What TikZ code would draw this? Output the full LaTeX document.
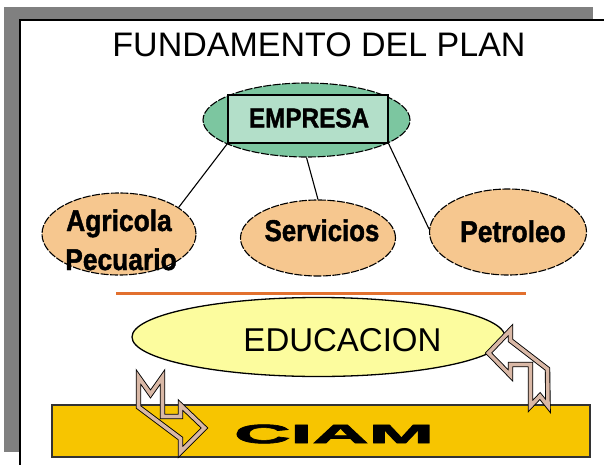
\documentclass[tikz,border=0pt]{standalone}
\usepackage{fontspec}
\setmainfont{Liberation Sans}
\newfontfamily\bfont{Liberation Sans Bold}[FakeBold=1.6]
\newfontfamily\cfont{Liberation Sans Bold}[FakeBold=2.2]
\usetikzlibrary{shapes.geometric}
\definecolor{shadowgray}{HTML}{808080}
\definecolor{empgreen}{HTML}{7CC6A0}
\definecolor{emplight}{HTML}{B3DFC9}
\definecolor{peach}{HTML}{F6C78F}
\definecolor{eduyellow}{HTML}{FCFC9E}
\definecolor{ciamyellow}{HTML}{F7C500}
\definecolor{lineorange}{HTML}{E2702E}
\definecolor{arrowtan}{HTML}{D9B8A6}
\begin{document}
\begin{tikzpicture}[x=1pt,y=-1pt,
  oval/.style={ellipse, draw=black, line width=1.1pt, dash pattern=on 8pt off 1.5pt, fill=peach, inner sep=0pt},
  word/.style={font=\bfont\fontsize{30}{34}\selectfont, inner sep=0pt, anchor=base},
  link/.style={draw=black, line width=1.1pt},
  hollow/.style={draw=black, line width=0.9pt, double=arrowtan, double distance=3.6pt, line join=miter}
]
\useasboundingbox (0,0) rectangle (604,465);
% shadow and panel
\fill[shadowgray] (4,7) rectangle (593,452);
\draw[fill=white, line width=1.8pt] (20,20) rectangle (640,500);
% title
\node[font=\fontsize{34}{40}\selectfont, inner sep=0pt] (title) at (319,45) {FUNDAMENTO DEL PLAN};
% EMPRESA
\node[ellipse, draw=black, line width=1.1pt, dash pattern=on 8pt off 1.5pt, fill=empgreen,
      minimum width=207pt, minimum height=74pt, inner sep=0pt] (emp) at (306.5,120) {};
\node[draw=black, line width=1.2pt, fill=emplight, minimum width=160pt, minimum height=48pt, inner sep=0pt] (emprect) at (308,119) {};
\node[font=\bfont\fontsize{27}{30}\selectfont, inner sep=0pt] (emptxt) at (309,118) {\scalebox{0.9}[1]{EMPRESA}};
% sub ellipses
\node[oval, minimum width=154pt, minimum height=82pt] (agri) at (119,234) {};
\node[oval, minimum width=155pt, minimum height=76pt] (serv) at (318,238) {};
\node[oval, minimum width=157pt, minimum height=86pt] (petro) at (508,232) {};
\node[word] (agri1) at (119,231) {\scalebox{0.88}[1]{Agricola}};
\node[word] (agri2) at (121,270) {\scalebox{0.88}[1]{Pecuario}};
\node[word] (servtxt) at (322,241) {\scalebox{0.86}[1]{Servicios}};
\node[word] (petrotxt) at (513,242) {\scalebox{0.88}[1]{Petroleo}};
% connectors
\draw[link] (emprect.south west) -- (agri.24);
\draw[link] (emp.south) -- (serv.north);
\draw[link] (emprect.south east) -- (petro.178);
% separator
\draw[lineorange, line width=3pt] (116,293) -- (526,293);
% EDUCACION
\node[ellipse, draw=black, line width=1.3pt, fill=eduyellow, minimum width=373pt, minimum height=79pt, inner sep=0pt] (edu) at (318.5,337) {};
\node[font=\fontsize{33}{38}\selectfont, inner sep=0pt] (edutxt) at (342.5,340) {EDUCACION};
% CIAM
\node[draw=black!80, line width=1.5pt, fill=ciamyellow, minimum width=538pt, minimum height=52pt, inner sep=0pt] (ciam) at (321,431) {};
\node[font=\cfont\fontsize{26.5}{30}\selectfont, inner sep=0pt] (ciamtxt) at (334,434) {\scalebox{2.95}[1]{CIAM}};
% hollow arrows
\draw[hollow] (138.5,377) -- (150.5,394) -- (162.5,377) -- (162.5,416.5) -- (180.5,416.5)
  -- (180.5,405) -- (204.5,428) -- (180.5,452) -- (180.5,438.5) -- (138.5,407) -- cycle;
\draw[hollow, fill=white] (488.5,353) -- (510.5,330) -- (510.5,340.5) -- (547.5,369) -- (548,406)
  -- (540,396) -- (530.5,406) -- (530.5,364.5) -- (510.5,364.5) -- (510.5,375.5) -- cycle;
\end{tikzpicture}
\end{document}
